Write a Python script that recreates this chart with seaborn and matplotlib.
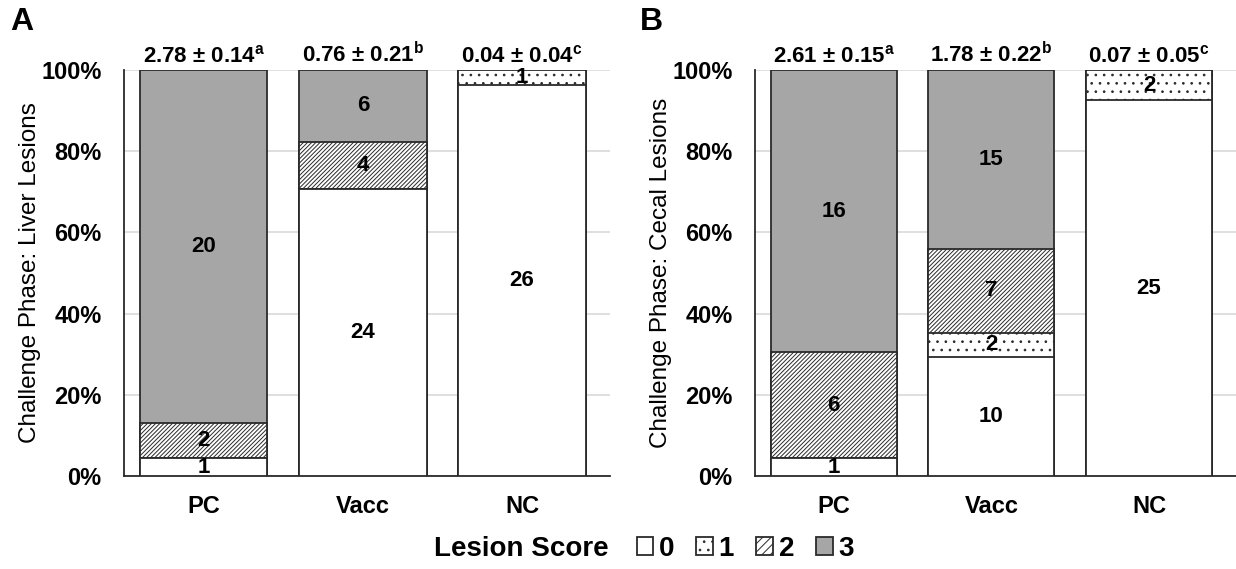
import matplotlib
matplotlib.use("Agg")
import matplotlib.pyplot as plt
from matplotlib.patches import Patch
import seaborn as sns
import pandas as pd
import numpy as np

# ==========================================
# DATA
# ==========================================

groups = ["PC", "Vacc", "NC"]
scores = ["0", "1", "2", "3"]

liver_s0 = [1, 24, 26]
liver_s1 = [0, 0, 1]
liver_s2 = [2, 4, 0]
liver_s3 = [20, 6, 0]
liver_means = ["2.78 ± 0.14", "0.76 ± 0.21", "0.04 ± 0.04"]

cecal_s0 = [1, 10, 25]
cecal_s1 = [0, 2, 2]
cecal_s2 = [6, 7, 0]
cecal_s3 = [16, 15, 0]
cecal_means = ["2.61 ± 0.15", "1.78 ± 0.22", "0.07 ± 0.05"]

letters = ["a", "b", "c"]

# ==========================================
# STYLE
# ==========================================

sns.set_style("white")
plt.rcParams["font.family"] = ["Liberation Sans", "DejaVu Sans"]
plt.rcParams["mathtext.fontset"] = "custom"
plt.rcParams["mathtext.rm"] = "Liberation Sans"
plt.rcParams["mathtext.bf"] = "Liberation Sans:bold"
plt.rcParams["hatch.linewidth"] = 0.7
plt.rcParams["text.color"] = "black"
plt.rcParams["axes.labelcolor"] = "black"
plt.rcParams["xtick.color"] = "black"
plt.rcParams["ytick.color"] = "black"

edge = "#2a2a2a"
fills = ["white", "white", "white", "#a6a6a6"]
hatches = ["", "..", "////////", ""]

fig = plt.figure(figsize=(12.36, 5.69), dpi=100)
axA = fig.add_axes([0.1003, 0.1634, 0.393, 0.7136])
axB = fig.add_axes([0.6108, 0.1634, 0.389, 0.7136])


def draw_panel(ax, counts, means, ylabel):
    counts = np.array(counts, dtype=float)
    totals = counts.sum(axis=0)
    pct = counts / totals * 100
    cum = np.cumsum(pct, axis=0)

    # draw from the top layer down so each lower layer overlays
    for i in range(3, -1, -1):
        df = pd.DataFrame({"group": groups, "value": cum[i]})
        sns.barplot(data=df, x="group", y="value", ax=ax, color=fills[i],
                    width=0.8, edgecolor=edge, linewidth=1.3,
                    hatch=hatches[i], saturation=1, zorder=3)

    # count labels
    for i in range(4):
        for j in range(3):
            if counts[i, j] > 0:
                mid = cum[i, j] - pct[i, j] / 2
                ax.text(j, mid, str(int(counts[i, j])), ha="center",
                        va="center", fontsize=16, fontweight="bold",
                        zorder=5)

    # mean +- se on top
    for j in range(3):
        ax.annotate(means[j] + r"$^{\mathbf{" + letters[j] + "}}$",
                    xy=(j, 100), xytext=(0, 2), textcoords="offset points",
                    ha="center", va="bottom", fontsize=16,
                    fontweight="bold", annotation_clip=False)

    ax.set_ylim(0, 100)
    ax.set_xlim(-0.5, 2.55)
    ax.set_yticks([0, 20, 40, 60, 80, 100])
    ax.set_yticklabels([f"{v}%" for v in [0, 20, 40, 60, 80, 100]],
                       fontsize=17, fontweight="bold")
    for lab in ax.get_xticklabels():
        lab.set_fontsize(17)
        lab.set_fontweight("bold")
    ax.tick_params(axis="both", length=0)
    ax.tick_params(axis="x", pad=14)
    ax.tick_params(axis="y", pad=16)
    ax.set_xlabel("")
    ax.set_ylabel(ylabel, fontsize=17.5, labelpad=0)
    ax.grid(axis="y", color="#d9d9d9", linewidth=1.2, zorder=0)
    ax.set_axisbelow(True)
    sns.despine(ax=ax, top=True, right=True)
    for s in ["left", "bottom"]:
        ax.spines[s].set_color(edge)
        ax.spines[s].set_linewidth(1.3)


draw_panel(axA, [liver_s0, liver_s1, liver_s2, liver_s3], liver_means,
           "Challenge Phase: Liver Lesions")
draw_panel(axB, [cecal_s0, cecal_s1, cecal_s2, cecal_s3], cecal_means,
           "Challenge Phase: Cecal Lesions")

# panel letters
fig.text(0.008, 0.962, "A", fontsize=23, fontweight="bold", va="center")
fig.text(0.518, 0.962, "B", fontsize=23, fontweight="bold", va="center")

# legend
fig.text(0.351, 0.035, "Lesion Score", fontsize=20, fontweight="bold",
         va="center", ha="left")
handles = [Patch(facecolor=fills[i], edgecolor=edge,
                 hatch=hatches[i].replace("////////", "////"),
                 linewidth=1.3) for i in range(4)]
fig.legend(handles, scores, loc="center left", bbox_to_anchor=(0.515, 0.035),
           ncol=4, frameon=False, prop={"size": 20, "weight": "bold"},
           handlelength=0.6, handleheight=0.6, handletextpad=0.2,
           columnspacing=0.8, borderpad=0, borderaxespad=0)

plt.savefig("out.png", dpi=100)
